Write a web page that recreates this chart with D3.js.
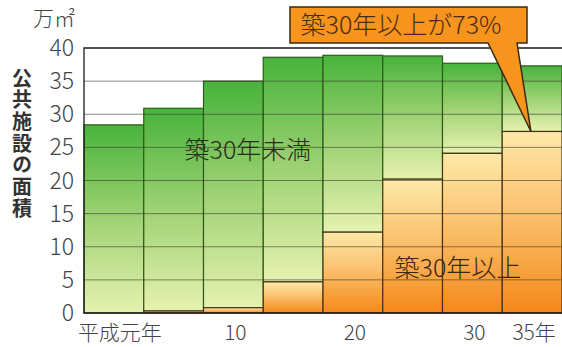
<!DOCTYPE html>
<html>
<head>
<meta charset="utf-8">
<script src="https://cdn.jsdelivr.net/npm/d3@7"></script>
<style>
body { margin: 0; background: #fff; }
text { font-family: "Noto Sans CJK JP", "Noto Sans", sans-serif; }
</style>
</head>
<body>
<div id="chart"></div>
<script>
// size
var chart_width = 562;
var chart_height = 347;

// data (万㎡)
var years = [1, 5, 10, 15, 20, 25, 30, 35];
var total_area = [28.4, 30.9, 35.0, 38.6, 38.9, 38.8, 37.7, 37.3];
var old_area = [0, 0.3, 0.8, 4.7, 12.2, 20.2, 24.1, 27.4];
var x_labels = {1: "平成元年", 10: "10", 20: "20", 30: "30", 35: "35年"};
var y_ticks = [0, 5, 10, 15, 20, 25, 30, 35, 40];

var margin = {top: 48, left: 84, bottom: 34};

var x = d3.scaleBand()
    .domain(years)
    .range([margin.left, chart_width])
    .padding(0);

var y = d3.scaleLinear()
    .domain([0, 40])
    .range([chart_height - margin.bottom, margin.top]);

var svg = d3.select('#chart')
    .append('svg')
    .attr('width', chart_width)
    .attr('height', chart_height);

// gradients, one per segment box
var defs = svg.append('defs');
var g_green = defs.append('linearGradient')
    .attr('id', 'green').attr('x1', 0).attr('y1', 0).attr('x2', 0).attr('y2', 1);
g_green.append('stop').attr('offset', '0%').attr('stop-color', '#48b33c');
g_green.append('stop').attr('offset', '50%').attr('stop-color', '#9fd274');
g_green.append('stop').attr('offset', '100%').attr('stop-color', '#e6f2b0');

var g_orange = defs.append('linearGradient')
    .attr('id', 'orange').attr('x1', 0).attr('y1', 0).attr('x2', 0).attr('y2', 1);
g_orange.append('stop').attr('offset', '0%').attr('stop-color', '#fde9a8');
g_orange.append('stop').attr('offset', '40%').attr('stop-color', '#fbc676');
g_orange.append('stop').attr('offset', '100%').attr('stop-color', '#f5891a');

var rows = years.map(function(d, i){
    return {year: d, total: total_area[i], old: old_area[i]};
});

// newer part (green)
svg.selectAll('.newbar')
    .data(rows)
    .enter()
    .append('rect')
    .attr('class', 'newbar')
    .attr('x', function(d){ return x(d.year); })
    .attr('width', x.bandwidth())
    .attr('y', function(d){ return y(d.total); })
    .attr('height', function(d){ return y(d.old) - y(d.total); })
    .attr('fill', 'url(#green)')
    .attr('stroke', '#2f5a1c')
    .attr('stroke-width', 1.2);

// older part (orange)
svg.selectAll('.oldbar')
    .data(rows.filter(function(d){ return d.old > 0; }))
    .enter()
    .append('rect')
    .attr('class', 'oldbar')
    .attr('x', function(d){ return x(d.year); })
    .attr('width', x.bandwidth())
    .attr('y', function(d){ return y(d.old); })
    .attr('height', function(d){ return y(0) - y(d.old); })
    .attr('fill', 'url(#orange)')
    .attr('stroke', '#4a3216')
    .attr('stroke-width', 1.2);

// grid lines
svg.selectAll('.grid')
    .data(y_ticks.filter(function(d){ return d > 0 && d < 40; }))
    .enter()
    .append('line')
    .attr('x1', margin.left)
    .attr('x2', chart_width)
    .attr('y1', function(d){ return y(d); })
    .attr('y2', function(d){ return y(d); })
    .attr('stroke', '#3a3a2a')
    .attr('stroke-opacity', 0.6)
    .attr('stroke-width', 1);

// frame
svg.append('path')
    .attr('d', 'M' + chart_width + ',' + y(40) + 'H' + margin.left + 'V' + y(0) + 'H' + chart_width)
    .attr('fill', 'none')
    .attr('stroke', '#1a1a1a')
    .attr('stroke-width', 1.3);

// y tick labels
svg.selectAll('.ytick')
    .data(y_ticks)
    .enter()
    .append('text')
    .attr('x', 74)
    .attr('y', function(d){ return y(d); })
    .attr('dy', '0.35em')
    .attr('text-anchor', 'end')
    .attr('font-size', '23px')
    .attr('font-weight', 300)
    .attr('fill', '#444')
    .text(function(d){ return d; });

// unit
svg.append('text')
    .attr('x', 75)
    .attr('y', 26)
    .attr('text-anchor', 'end')
    .attr('font-size', '21px')
    .attr('font-weight', 300)
    .attr('fill', '#444')
    .text('万㎡');

// y title, vertical
svg.append('text')
    .attr('x', 22)
    .attr('y', 68)
    .attr('font-size', '20px')
    .attr('font-weight', 'bold')
    .attr('fill', '#333')
    .style('writing-mode', 'vertical-rl')
    .style('letter-spacing', '1.7px')
    .text('公共施設の面積');

// x labels
svg.selectAll('.xtick')
    .data(years.filter(function(d){ return x_labels[d]; }))
    .enter()
    .append('text')
    .attr('x', function(d){ return x(d) + x.bandwidth() / 2 + (d === 1 ? 6 : 2); })
    .attr('y', 340)
    .attr('text-anchor', 'middle')
    .attr('font-size', '21px')
    .attr('font-weight', 300)
    .attr('fill', '#444')
    .text(function(d){ return x_labels[d]; });

// segment labels
svg.append('text')
    .attr('x', 248)
    .attr('y', 159)
    .attr('text-anchor', 'middle')
    .attr('font-size', '25px')
    .attr('font-weight', 300)
    .attr('fill', '#2a2a1a')
    .text('築30年未満');

svg.append('text')
    .attr('x', 458)
    .attr('y', 277)
    .attr('text-anchor', 'middle')
    .attr('font-size', '25px')
    .attr('font-weight', 300)
    .attr('fill', '#3a2510')
    .text('築30年以上');

// callout pointing at last bar
var last = rows[rows.length - 1];
var tip_x = x(last.year) + x.bandwidth() * 0.48;
var tip_y = y(last.old);
svg.append('path')
    .attr('d', 'M290,7H527V43H517L' + tip_x + ',' + tip_y + 'L488,43H290Z')
    .attr('fill', '#f7941d')
    .attr('stroke', '#3a2a12')
    .attr('stroke-width', 1.5)
    .attr('stroke-linejoin', 'miter');

svg.append('text')
    .attr('x', 401)
    .attr('y', 34)
    .attr('text-anchor', 'middle')
    .attr('font-size', '25px')
    .attr('font-weight', 300)
    .attr('fill', '#4a2a10')
    .text('築30年以上が' + Math.round(last.old / last.total * 100) + '%');
</script>
</body>
</html>
